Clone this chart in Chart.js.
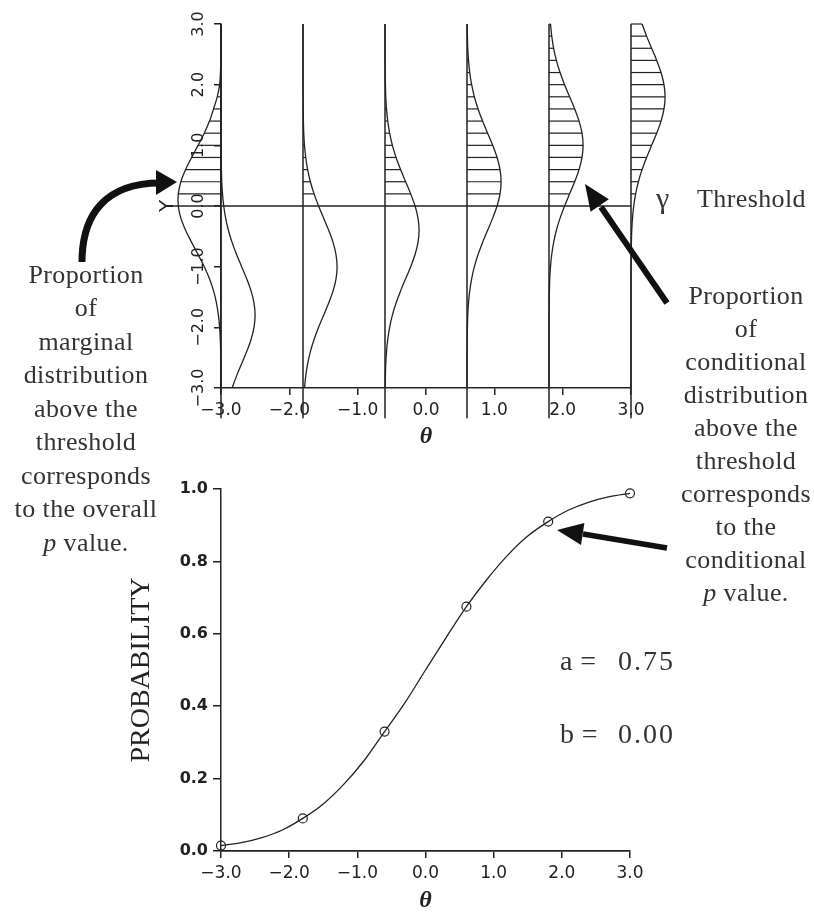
<!DOCTYPE html>
<html><head><meta charset="utf-8">
<script src="https://cdn.jsdelivr.net/npm/chart.js@4/dist/chart.umd.min.js"></script>
<style>
html,body{margin:0;padding:0;background:#fff;width:814px;height:913px;overflow:hidden;}
#wrap{position:relative;width:814px;height:913px;}
canvas{position:absolute;left:0;}
#c1{top:0;width:814px;height:460px;}
#c2{top:460px;width:814px;height:453px;}
.t{position:absolute;font-family:"Liberation Serif","Times New Roman",serif;color:#333;font-size:26px;letter-spacing:0.4px;text-align:center;white-space:nowrap;}
svg{position:absolute;left:0;top:0;}
</style></head><body>
<div id="wrap">
<canvas id="c1" width="814" height="460"></canvas>
<canvas id="c2" width="814" height="453"></canvas>

<div class="t" style="left:0;top:257.5px;width:172px;line-height:33.5px;">Proportion<br>of<br>marginal<br>distribution<br>above the<br>threshold<br>corresponds<br>to the overall<br><i>p</i> value.</div>
<div class="t" style="left:676px;top:278.7px;width:140px;line-height:33px;">Proportion<br>of<br>conditional<br>distribution<br>above the<br>threshold<br>corresponds<br>to the<br>conditional<br><i>p</i> value.</div>
<div class="t" style="left:656px;top:184px;line-height:28px;font-size:30px;text-align:left;">γ</div>
<div class="t" style="left:697px;top:186.2px;line-height:26px;text-align:left;">Threshold</div>
<div class="t" style="left:560px;top:647px;line-height:28px;font-size:28px;text-align:left;">a =</div>
<div class="t" style="left:618px;top:647px;line-height:28px;font-size:28px;letter-spacing:2px;text-align:left;">0.75</div>
<div class="t" style="left:560px;top:720px;line-height:28px;font-size:28px;text-align:left;">b =</div>
<div class="t" style="left:618px;top:720px;line-height:28px;font-size:28px;letter-spacing:2px;text-align:left;">0.00</div>

<svg width="814" height="913">
  <path d="M82 262 C82 214 106 183 160 183" stroke="#111" stroke-width="7" fill="none"/>
  <polygon points="177,182 156,170 156,195" fill="#111"/>
  <line x1="667" y1="303" x2="601" y2="207" stroke="#111" stroke-width="6"/>
  <polygon points="585,184 608.8,199.3 590.6,211.7" fill="#111"/>
  <line x1="667" y1="548" x2="583" y2="534" stroke="#111" stroke-width="5.5"/>
  <polygon points="557,530 584.4,523.1 581,544.9" fill="#111"/>
</svg>
</div>
<script>
// ---------- data ----------
const thetaTicks = [-3, -2, -1, 0, 1, 2, 3];
const thetaTickLabels = ['−3.0', '−2.0', '−1.0', '0.0', '1.0', '2.0', '3.0'];
const yTicks = [-3, -2, -1, 0, 1, 2, 3];
const yTickLabels = ['−3.0', '−2.0', '−1.0', '0.0', '1.0', '2.0', '3.0'];
const probTicks = [0, 0.2, 0.4, 0.6, 0.8, 1.0];
const probTickLabels = ['0.0', '0.2', '0.4', '0.6', '0.8', '1.0'];

const threshold = 0;
const condThetas = [-3.0, -1.8, -0.6, 0.6, 1.8, 3.0];
const yGrid = [-3.0,-2.8,-2.6,-2.4,-2.2,-2.0,-1.8,-1.6,-1.4,-1.2,-1.0,-0.8,-0.6,-0.4,-0.2,0.0,0.2,0.4,0.6,0.8,1.0,1.2,1.4,1.6,1.8,2.0,2.2,2.4,2.6,2.8,3.0];

// conditional densities (horizontal extent in theta units) at each yGrid value
const densThetaM30 = [0.162,0.228,0.302,0.376,0.440,0.483,0.499,0.483,0.440,0.376,0.302,0.228,0.162,0.108,0.068,0.040,0.022,0.011,0.006,0.003,0.001,0,0,0,0,0,0,0,0,0,0];
const densThetaM18 = [0.022,0.040,0.068,0.108,0.162,0.228,0.302,0.376,0.440,0.483,0.499,0.483,0.440,0.376,0.302,0.228,0.162,0.108,0.068,0.040,0.022,0.011,0.006,0.003,0.001,0,0,0,0,0,0];
const densThetaM06 = [0.003,0.006,0.011,0.022,0.040,0.068,0.108,0.162,0.228,0.302,0.376,0.440,0.483,0.499,0.483,0.440,0.376,0.302,0.228,0.162,0.108,0.068,0.040,0.022,0.011,0.006,0.003,0.001,0,0,0];
const densThetaP06 = [0,0,0,0.001,0.003,0.006,0.011,0.022,0.040,0.068,0.108,0.162,0.228,0.302,0.376,0.440,0.483,0.499,0.483,0.440,0.376,0.302,0.228,0.162,0.108,0.068,0.040,0.022,0.011,0.006,0.003];
const densThetaP18 = [0,0,0,0,0,0,0.001,0.003,0.006,0.011,0.022,0.040,0.068,0.108,0.162,0.228,0.302,0.376,0.440,0.483,0.499,0.483,0.440,0.376,0.302,0.228,0.162,0.108,0.068,0.040,0.022];
const densThetaP30 = [0,0,0,0,0,0,0,0,0,0,0.001,0.003,0.006,0.011,0.022,0.040,0.068,0.108,0.162,0.228,0.302,0.376,0.440,0.483,0.499,0.483,0.440,0.376,0.302,0.228,0.162];
const marginalDensity = [0,0.001,0.002,0.005,0.010,0.020,0.038,0.066,0.109,0.168,0.245,0.335,0.430,0.518,0.587,0.625,0.625,0.587,0.518,0.430,0.335,0.245,0.168,0.109,0.055,0.020,0.008,0.003,0,0,0];

// bottom panel
const pointProb = [0.015, 0.09, 0.33, 0.675, 0.91, 0.988];
const curveTheta = [-3.0,-2.7,-2.4,-2.1,-1.8,-1.5,-1.2,-0.9,-0.6,-0.3,0.0,0.3,0.6,0.9,1.2,1.5,1.8,2.1,2.4,2.7,3.0];
const curveProb = [0.015,0.023,0.037,0.058,0.09,0.13,0.184,0.25,0.33,0.41,0.5,0.589,0.675,0.75,0.816,0.87,0.91,0.942,0.964,0.979,0.988];

// ---------- drawing ----------
const INK = '#222';
const condDensities = [densThetaM30, densThetaM18, densThetaM06, densThetaP06, densThetaP18, densThetaP30];
const base = {showLine: true, pointRadius: 0, borderColor: INK, borderWidth: 1.3, fill: false, clip: false, tension: 0, capBezierPoints: false};

const ds1 = [];
// threshold line
ds1.push({...base, data: [{x: -3.75, y: threshold}, {x: 3, y: threshold}], borderWidth: 1.4});
// vertical lines at each conditioning theta
condThetas.forEach(t => ds1.push({...base, borderWidth: 1.5, data: [{x: t, y: 3}, {x: t, y: -3.5}]}));
// conditional density curves
condDensities.forEach((d, k) => ds1.push({...base, tension: 0.3, data: yGrid.map((y, i) => ({x: condThetas[k] + d[i], y}))}));
// marginal density (drawn to the left of theta = -3)
ds1.push({...base, tension: 0.3, data: yGrid.map((y, i) => ({x: condThetas[0] - marginalDensity[i], y}))});
// hatching above threshold
function addHatch(x0, dens, dir) {
  yGrid.forEach((y, i) => {
    if (y > threshold + 1e-9 && dens[i] > 0) {
      ds1.push({...base, borderWidth: 1.2, data: [{x: x0, y}, {x: x0 + dir * dens[i], y}]});
    }
  });
}
condDensities.forEach((d, k) => addHatch(condThetas[k], d, 1));
addHatch(condThetas[0], marginalDensity, -1);

const tickFont = {family: '"DejaVu Sans", sans-serif', size: 17};
const thetaTitle = {display: true, text: 'θ', color: INK, font: {family: '"Liberation Serif", serif', size: 24, style: 'italic', weight: 'bold', lineHeight: 1}};

const rotYLabels = {
  id: 'rotY',
  beforeDatasetsDraw(chart) {
    const ys = chart.scales.y, ctx = chart.ctx;
    ctx.save();
    ctx.fillStyle = INK;
    ctx.font = '16px "DejaVu Sans", sans-serif';
    ctx.textAlign = 'center';
    ctx.textBaseline = 'middle';
    yTicks.forEach((v, i) => {
      const py = ys.getPixelForValue(v);
      ctx.save();
      ctx.translate(ys.right - 22, py);
      ctx.rotate(-Math.PI / 2);
      ctx.fillText(yTickLabels[i], 0, 0);
      ctx.restore();
    });
    ctx.restore();
  }
};

new Chart(document.getElementById('c1'), {
  type: 'scatter',
  data: {datasets: ds1},
  plugins: [rotYLabels],
  options: {
    responsive: false, animation: false, events: [], devicePixelRatio: 1,
    layout: {padding: {left: 0, right: 183, top: 24, bottom: 0}},
    elements: {line: {capBezierPoints: false}},
    plugins: {legend: {display: false}, tooltip: {enabled: false}},
    scales: {
      x: {
        type: 'linear', min: -3, max: 3,
        afterBuildTicks: s => { s.ticks = thetaTicks.map(v => ({value: v})); },
        ticks: {autoSkip: false, maxRotation: 0, color: INK, font: tickFont, padding: 5,
                callback: v => thetaTickLabels[thetaTicks.indexOf(v)]},
        grid: {drawOnChartArea: false, drawTicks: true, tickLength: 7, color: INK, lineWidth: 1.5},
        border: {display: true, color: INK, width: 1.5},
        title: {...thetaTitle, padding: {top: 0, bottom: 11}},
        afterFit: s => { s.height = 72; }
      },
      y: {
        type: 'linear', min: -3, max: 3,
        afterBuildTicks: s => { s.ticks = yTicks.map(v => ({value: v})); },
        ticks: {display: false},
        grid: {drawOnChartArea: false, drawTicks: true, tickLength: 7, color: INK, lineWidth: 1.5},
        border: {display: true, color: INK, width: 1.5},
        title: {display: true, text: 'Y', color: INK, font: {family: '"DejaVu Sans", sans-serif', size: 20}, padding: {top: 156, bottom: 0}},
        afterFit: s => { s.width = 221; }
      }
    }
  }
});

new Chart(document.getElementById('c2'), {
  type: 'scatter',
  data: {datasets: [
    {data: curveTheta.map((t, i) => ({x: t, y: curveProb[i]})), showLine: true, pointRadius: 0,
     borderColor: INK, borderWidth: 1.3, cubicInterpolationMode: 'monotone', clip: false},
    {data: condThetas.map((t, i) => ({x: t, y: pointProb[i]})), showLine: false, pointRadius: 4.5,
     pointBorderColor: INK, pointBackgroundColor: 'rgba(0,0,0,0)', pointBorderWidth: 1.2, clip: false}
  ]},
  options: {
    responsive: false, animation: false, events: [], devicePixelRatio: 1,
    layout: {padding: {left: 0, right: 184, top: 29, bottom: 0}},
    plugins: {legend: {display: false}, tooltip: {enabled: false}},
    scales: {
      x: {
        type: 'linear', min: -3, max: 3,
        afterBuildTicks: s => { s.ticks = thetaTicks.map(v => ({value: v})); },
        ticks: {autoSkip: false, maxRotation: 0, color: INK, font: tickFont, padding: 5,
                callback: v => thetaTickLabels[thetaTicks.indexOf(v)]},
        grid: {drawOnChartArea: false, drawTicks: true, tickLength: 7, color: INK, lineWidth: 1.5},
        border: {display: true, color: INK, width: 1.8},
        title: {...thetaTitle, padding: {top: 0, bottom: 0}},
        afterFit: s => { s.height = 62; }
      },
      y: {
        type: 'linear', min: 0, max: 1,
        afterBuildTicks: s => { s.ticks = probTicks.map(v => ({value: v})); },
        ticks: {color: INK, font: {family: '"DejaVu Sans", sans-serif', size: 16, weight: 'bold'}, padding: 5,
                callback: v => probTickLabels[probTicks.findIndex(p => Math.abs(p - v) < 1e-9)]},
        grid: {drawOnChartArea: false, drawTicks: true, tickLength: 8, color: INK, lineWidth: 1.5},
        border: {display: true, color: INK, width: 1.5},
        title: {display: true, text: 'PROBABILITY', color: INK, font: {family: '"Liberation Serif", serif', size: 28}, padding: {top: 125, bottom: 0}},
        afterFit: s => { s.width = 221; }
      }
    }
  }
});
</script>
</body></html>
